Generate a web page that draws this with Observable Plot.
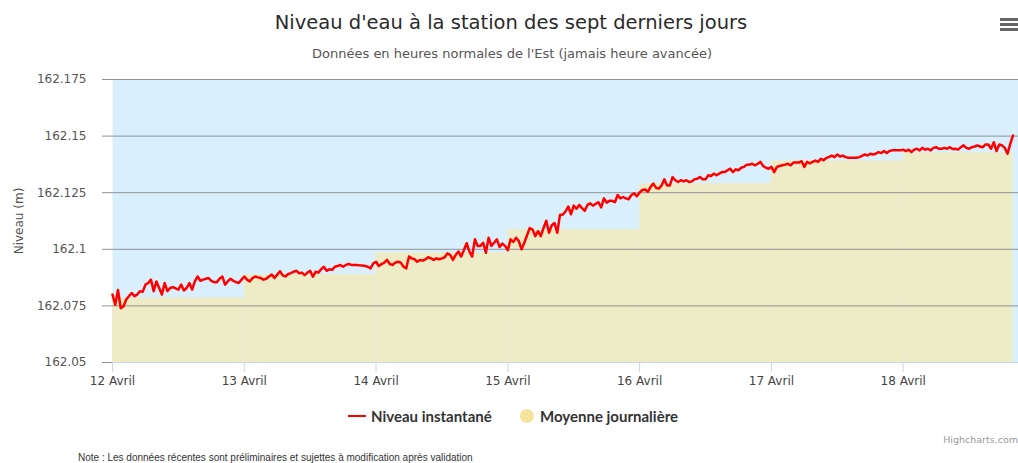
<!DOCTYPE html>
<html>
<head>
<meta charset="utf-8">
<script src="https://cdn.jsdelivr.net/npm/d3@7"></script>
<script src="https://cdn.jsdelivr.net/npm/@observablehq/plot@0.6"></script>
<style>
  body { margin:0; width:1018px; height:463px; position:relative; background:#fff; overflow:hidden; font-family:"DejaVu Sans", sans-serif; }
  .abs { position:absolute; white-space:nowrap; }
  #title { top:11px; left:0; width:1022px; text-align:center; font-size:19.5px; color:#2a2a2a; }
  #subtitle { top:46px; left:0; width:1024px; text-align:center; font-size:13px; color:#555; }
  #chart { top:60px; left:0; }
  .burger { left:1000px; width:18px; height:3px; background:#666; }
  .leg { font-family:Lato, "DejaVu Sans", sans-serif; font-weight:bold; font-size:15px; color:#333; line-height:18px; }
  #credits { right:0; top:434px; font-size:9.5px; color:#999; }
  #note { left:78px; top:452px; font-family:"Liberation Sans Narrow", "Liberation Sans", sans-serif; font-size:10px; color:#333; }
</style>
</head>
<body>
<div class="abs" id="title">Niveau d'eau à la station des sept derniers jours</div>
<div class="abs" id="subtitle">Données en heures normales de l'Est (jamais heure avancée)</div>
<div class="abs burger" style="top:18px"></div>
<div class="abs burger" style="top:23px"></div>
<div class="abs burger" style="top:28px"></div>
<div class="abs" id="chart"></div>
<div class="abs" style="left:348px;top:415px;width:18px;height:2px;background:#ff0000"></div>
<div class="abs leg" style="left:371px;top:407px">Niveau instantané</div>
<div class="abs" style="left:520px;top:409px;width:14px;height:14px;border-radius:50%;background:#f6e49d"></div>
<div class="abs leg" style="left:540px;top:407px">Moyenne journalière</div>
<div class="abs" id="credits">Highcharts.com</div>
<div class="abs" id="note">Note : Les données récentes sont préliminaires et sujettes à modification après validation</div>
<script>
// ---- data ----
const startDay = "2019-04-12";       // first day (00:00)
const stepHours = 0.5;                // spacing of the instantaneous readings
const levels = [
  162.0800,162.0755,162.0820,162.0740,162.0748,162.0778,162.0793,162.0807,162.0793,162.0800,
  162.0815,162.0812,162.0844,162.0851,162.0866,162.0815,162.0858,162.0829,162.0800,162.0851,
  162.0815,162.0829,162.0833,162.0827,162.0822,162.0844,162.0818,162.0829,162.0851,162.0822,
  162.0858,162.0880,162.0861,162.0866,162.0870,162.0873,162.0861,162.0855,162.0855,162.0870,
  162.0880,162.0844,162.0858,162.0870,162.0861,162.0855,162.0851,162.0866,162.0880,162.0866,
  162.0858,162.0873,162.0880,162.0876,162.0873,162.0866,162.0870,162.0880,162.0888,162.0873,
  162.0888,162.0903,162.0885,162.0880,162.0891,162.0895,
  162.0901,162.0905,162.0894,162.0897,162.0886,162.0897,162.0905,162.0879,162.0901,162.0897,
  162.0912,162.0923,162.0905,162.0912,162.0909,162.0923,162.0926,162.0931,162.0923,162.0931,
  162.0935,162.0931,162.0931,162.0931,162.0929,162.0928,162.0926,162.0923,162.0916,162.0938,
  162.0945,162.0926,162.0935,162.0941,162.0953,162.0935,162.0931,162.0941,162.0945,162.0941,
  162.0923,162.0916,162.0968,162.0960,162.0956,162.0945,162.0953,162.0950,162.0956,162.0965,
  162.0960,162.0953,162.0960,162.0956,162.0960,162.0965,162.0982,162.0975,162.0953,162.0975,
  162.0990,162.0968,162.0997,162.1027,162.0990,162.0968,
  162.1044,162.1015,162.1015,162.1029,162.0985,162.1051,162.1015,162.1029,162.1044,162.1010,
  162.1025,162.1015,162.0996,162.1044,162.1033,162.1051,162.1036,162.1000,162.1029,162.1062,
  162.1094,162.1087,162.1058,162.1080,162.1058,162.1094,162.1126,162.1073,162.1106,162.1116,
  162.1073,162.1153,162.1153,162.1167,162.1189,162.1155,162.1193,162.1179,162.1196,162.1182,
  162.1170,162.1196,162.1203,162.1193,162.1201,162.1208,162.1185,162.1225,162.1206,162.1214,
  162.1214,162.1208,162.1240,162.1225,162.1231,162.1225,162.1221,162.1240,162.1247,162.1234,
  162.1251,162.1262,162.1264,162.1254,162.1276,
  162.1290,162.1271,162.1268,162.1282,162.1309,162.1282,162.1282,162.1319,162.1305,162.1297,
  162.1305,162.1300,162.1305,162.1297,162.1300,162.1309,162.1312,162.1319,162.1309,162.1309,
  162.1327,162.1324,162.1334,162.1327,162.1334,162.1341,162.1341,162.1349,162.1356,162.1341,
  162.1353,162.1349,162.1360,162.1364,162.1374,162.1374,162.1378,162.1371,162.1378,162.1386,
  162.1368,162.1360,162.1356,162.1364,162.1341,162.1364,162.1368,162.1371,162.1374,162.1378,
  162.1371,162.1383,162.1383,162.1383,162.1389,162.1364,162.1386,162.1380,162.1386,162.1392,
  162.1386,162.1400,162.1393,162.1403,162.1408,
  162.1414,162.1407,162.1419,162.1410,162.1414,162.1407,162.1404,162.1404,162.1404,162.1404,
  162.1407,162.1413,162.1419,162.1414,162.1422,162.1419,162.1422,162.1429,162.1425,162.1434,
  162.1425,162.1434,162.1437,162.1437,162.1437,162.1437,162.1440,162.1434,162.1440,162.1429,
  162.1440,162.1444,162.1437,162.1448,162.1440,162.1444,162.1437,162.1448,162.1451,162.1444,
  162.1444,162.1448,162.1444,162.1451,162.1443,162.1444,162.1440,162.1451,162.1459,162.1448,
  162.1444,162.1451,162.1454,162.1459,162.1454,162.1451,162.1463,162.1463,162.1444,162.1473,
  162.1434,162.1463,162.1459,162.1448,162.1422,162.1466,162.1503
];
const dayLabels = ["12 Avril","13 Avril","14 Avril","15 Avril","16 Avril","17 Avril","18 Avril"];
const dailyMeans = [162.0785, 162.0888, 162.0985, 162.1087, 162.129, 162.139, 162.1426];
const yTicks = [162.05, 162.075, 162.1, 162.125, 162.15, 162.175];
const xSpanHours = 165;

// ---- build ----
const H = 3600e3;
const t0 = new Date(startDay + "T00:00:00Z");
const levelData = levels.map((v, i) => ({t: new Date(+t0 + i * stepHours * H), v}));
const tLast = levelData[levelData.length - 1].t;
const dayStarts = dayLabels.map((_, i) => new Date(+t0 + i * 24 * H));
const daily = dailyMeans.map((m, i) => ({
  start: dayStarts[i],
  end: i + 1 < dayStarts.length ? dayStarts[i + 1] : tLast,
  mean: m
}));
const yFmt = d3.format(".3~f");

const chart = Plot.plot({
  width: 1018, height: 340,
  marginTop: 19, marginBottom: 38, marginLeft: 112, marginRight: 0,
  style: {fontFamily: "DejaVu Sans", fontSize: "12px", background: "transparent", overflow: "visible"},
  x: {type: "utc", domain: [t0, new Date(+t0 + xSpanHours * H)]},
  y: {domain: [yTicks[0], yTicks[yTicks.length - 1]]},
  marks: [
    Plot.frame({fill: "#d9f0fc", stroke: null}),
    Plot.rect(daily, {x1: "start", x2: "end", y1: yTicks[0], y2: "mean", fill: "#eeecc6"}),
    Plot.gridY(yTicks.slice(1), {stroke: "#8e9296", strokeOpacity: 1}),
    Plot.ruleY([yTicks[0]], {stroke: "#ccd6eb"}),
    Plot.axisY(yTicks, {tickSize: 10, tickPadding: 16, stroke: "#8e9296", color: "#555",
      tickFormat: yFmt, label: "Niveau (m)", labelAnchor: "center", labelArrow: "none", labelOffset: 98, fontSize: 12}),
    Plot.axisX(dayStarts, {tickSize: 10, tickPadding: 4, stroke: "#ccd6eb", color: "#444",
      tickFormat: d => dayLabels[dayStarts.findIndex(s => +s === +d)], label: null, fontSize: 12}),
    Plot.line(levelData, {x: "t", y: "v", stroke: "#ff0000", strokeWidth: 2.5, strokeLinejoin: "round"})
  ]
});
document.getElementById("chart").appendChild(chart);
</script>
</body>
</html>
